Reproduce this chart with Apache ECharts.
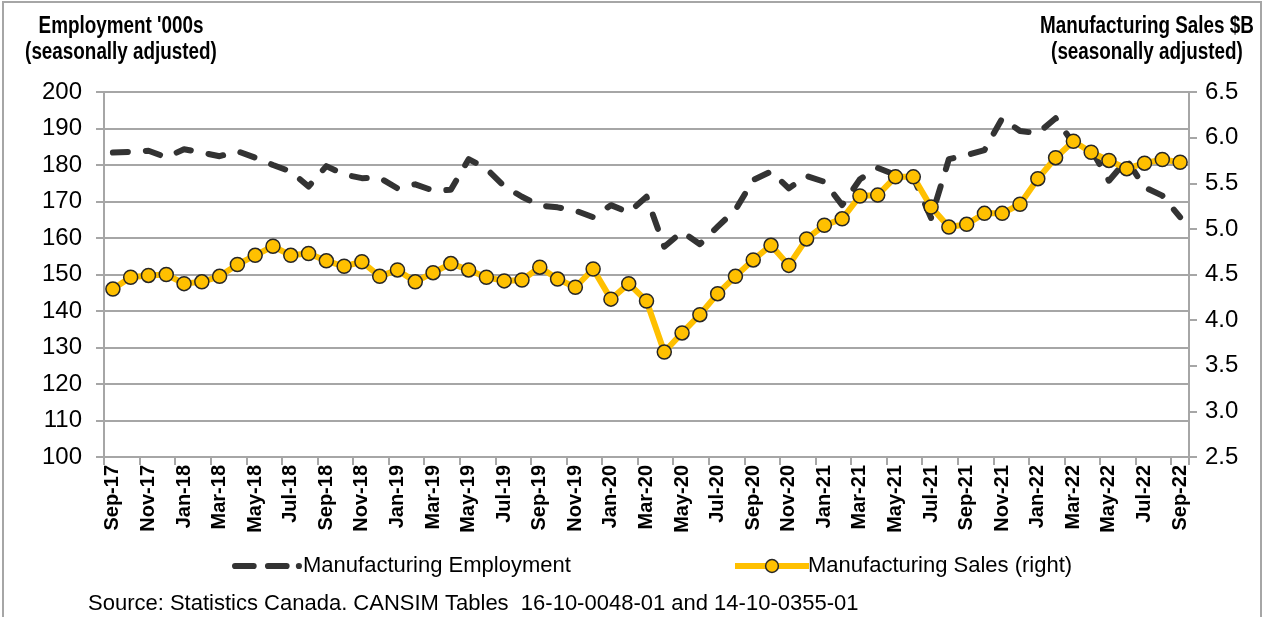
<!DOCTYPE html>
<html lang="en">
<head>
    <meta charset="UTF-8">
    <title>Manufacturing Employment and Sales</title>
    <script src="https://cdn.jsdelivr.net/npm/echarts@6/dist/echarts.min.js"></script>
    <style>
        body { margin: 0; background: #fff; }
        #frame {
            position: absolute; left: 2px; top: 1px;
            width: 1256px; height: 700px;
            border: 2px solid #a6a6a6;
        }
        #chart { position: absolute; left: 0; top: 0; width: 1266px; height: 617px; }
    </style>
</head>
<body>
    <div id="frame"></div>
    <div id="chart"></div>
    <script>
        // monthly, Sep-17 .. Sep-22
        const months = [
            'Sep-17', 'Oct-17', 'Nov-17', 'Dec-17', 'Jan-18', 'Feb-18', 'Mar-18', 'Apr-18', 'May-18', 'Jun-18', 'Jul-18', 'Aug-18',
            'Sep-18', 'Oct-18', 'Nov-18', 'Dec-18', 'Jan-19', 'Feb-19', 'Mar-19', 'Apr-19', 'May-19', 'Jun-19', 'Jul-19', 'Aug-19',
            'Sep-19', 'Oct-19', 'Nov-19', 'Dec-19', 'Jan-20', 'Feb-20', 'Mar-20', 'Apr-20', 'May-20', 'Jun-20', 'Jul-20', 'Aug-20',
            'Sep-20', 'Oct-20', 'Nov-20', 'Dec-20', 'Jan-21', 'Feb-21', 'Mar-21', 'Apr-21', 'May-21', 'Jun-21', 'Jul-21', 'Aug-21',
            'Sep-21', 'Oct-21', 'Nov-21', 'Dec-21', 'Jan-22', 'Feb-22', 'Mar-22', 'Apr-22', 'May-22', 'Jun-22', 'Jul-22', 'Aug-22',
            'Sep-22'
        ];

        // employment, '000s (left axis)
        const employment = [
            183.4, 183.6, 183.9, 182.1, 184.3, 183.4, 182.4, 183.8, 182.0, 180.0, 178.2, 174.1,
            179.7, 177.4, 176.4, 176.5, 173.6, 174.7, 173.0, 173.2, 181.6, 179.0, 174.2, 171.3,
            168.9, 168.4, 167.5, 165.7, 169.0, 167.0, 171.3, 157.6, 161.7, 158.3, 163.1, 167.7,
            175.9, 178.2, 173.6, 177.0, 175.4, 169.0, 176.1, 179.2, 177.3, 176.6, 165.5, 181.6,
            182.7, 184.1, 192.8, 189.3, 188.7, 192.8, 185.9, 184.3, 175.7, 181.4, 173.9, 171.6,
            165.7
        ];

        // sales, $B (right axis)
        const sales = [
            4.34, 4.47, 4.49, 4.50, 4.40, 4.42, 4.48, 4.61, 4.71, 4.81, 4.71, 4.73,
            4.65, 4.59, 4.64, 4.48, 4.55, 4.42, 4.52, 4.62, 4.55, 4.47, 4.43, 4.44,
            4.58, 4.45, 4.36, 4.56, 4.23, 4.40, 4.21, 3.65, 3.86, 4.06, 4.29, 4.48,
            4.66, 4.82, 4.60, 4.89, 5.04, 5.11, 5.36, 5.37, 5.57, 5.57, 5.24, 5.02,
            5.05, 5.17, 5.17, 5.27, 5.55, 5.78, 5.96, 5.84, 5.75, 5.66, 5.72, 5.76,
            5.73
        ];

        const FONT = '"Liberation Sans", Arial, sans-serif';
        const gridGray = '#a6a6a6';
        const dark = '#333333';
        const gold = '#FFC000';

        // dashed legend mark: two long dashes and a dot
        const dashIcon = 'path://M3,0H21A3,3 0 0 1 21,6H3A3,3 0 0 1 3,0Z' +
            'M35,0H53A3,3 0 0 1 53,6H35A3,3 0 0 1 35,0Z' +
            'M65,0A3,3 0 0 1 65,6A3,3 0 0 1 65,0Z';

        const chart = echarts.init(document.getElementById('chart'), null, { renderer: 'canvas' });

        const option = {
            animation: false,
            backgroundColor: 'transparent',
            grid: { left: 104, right: 77, top: 92, bottom: 160 },
            graphic: [
                {
                    type: 'text', x: 121, y: 14, scaleX: 0.82,
                    style: {
                        text: "Employment '000s\n(seasonally adjusted)",
                        textAlign: 'center', fill: '#000',
                        font: 'bold 23px ' + FONT, lineHeight: 26
                    }
                },
                {
                    type: 'text', x: 1147, y: 14, scaleX: 0.82,
                    style: {
                        text: 'Manufacturing Sales $B\n(seasonally adjusted)',
                        textAlign: 'center', fill: '#000',
                        font: 'bold 23px ' + FONT, lineHeight: 26
                    }
                },
                {
                    type: 'text', x: 88, y: 593,
                    style: {
                        text: 'Source: Statistics Canada. CANSIM Tables  16-10-0048-01 and 14-10-0355-01',
                        fill: '#000', font: '22px ' + FONT
                    }
                }
            ],
            legend: [
                {
                    data: [{ name: 'Manufacturing Employment', icon: dashIcon }],
                    left: 227, top: 550,
                    itemWidth: 70, itemHeight: 7, itemGap: 4,
                    textStyle: { fontSize: 22, fontFamily: FONT, color: '#000', padding: [0, 0, 0, -4] }
                },
                {
                    data: [{
                        name: 'Manufacturing Sales (right)',
                        lineStyle: { color: gold, width: 6 },
                        itemStyle: { color: gold, borderColor: '#262626', borderWidth: 1.5 }
                    }],
                    left: 727, top: 550,
                    itemWidth: 74, itemHeight: 16,
                    textStyle: { fontSize: 22, fontFamily: FONT, color: '#000', padding: [0, 0, 0, -6] }
                }
            ],
            xAxis: {
                type: 'category',
                data: months,
                boundaryGap: true,
                axisLine: { show: true, lineStyle: { color: gridGray, width: 2 } },
                axisTick: { show: true, interval: 1, length: 8, lineStyle: { color: gridGray, width: 2 } },
                axisLabel: {
                    interval: 1, rotate: 90, margin: 8,
                    fontSize: 20, fontWeight: 'bold', fontFamily: FONT, color: '#000'
                },
                splitLine: { show: false }
            },
            yAxis: [
                {
                    type: 'value', min: 100, max: 200, interval: 10,
                    axisLine: { show: true, lineStyle: { color: gridGray, width: 2 } },
                    axisTick: { show: true, length: 8, lineStyle: { color: gridGray, width: 2 } },
                    axisLabel: { fontSize: 24, fontFamily: FONT, color: '#000', margin: 22 },
                    splitLine: { show: true, lineStyle: { color: gridGray, width: 2 } }
                },
                {
                    type: 'value', min: 2.5, max: 6.5, interval: 0.5,
                    position: 'right',
                    axisLine: { show: true, lineStyle: { color: gridGray, width: 2 } },
                    axisTick: { show: true, length: 8, lineStyle: { color: gridGray, width: 2 } },
                    axisLabel: {
                        fontSize: 24, fontFamily: FONT, color: '#000', margin: 16,
                        formatter: v => v.toFixed(1)
                    },
                    splitLine: { show: false }
                }
            ],
            series: [
                {
                    name: 'Manufacturing Employment',
                    type: 'line',
                    yAxisIndex: 0,
                    data: employment,
                    symbol: 'none',
                    lineStyle: { color: dark, width: 6, type: [15, 18], cap: 'round', join: 'round' },
                    itemStyle: { color: dark },
                    z: 2
                },
                {
                    name: 'Manufacturing Sales (right)',
                    type: 'line',
                    yAxisIndex: 1,
                    data: sales,
                    symbol: 'circle',
                    symbolSize: 14,
                    showAllSymbol: true,
                    lineStyle: { color: gold, width: 6, join: 'round' },
                    itemStyle: { color: gold, borderColor: '#262626', borderWidth: 1.5 },
                    z: 3
                }
            ]
        };

        chart.setOption(option);
    </script>
</body>
</html>
